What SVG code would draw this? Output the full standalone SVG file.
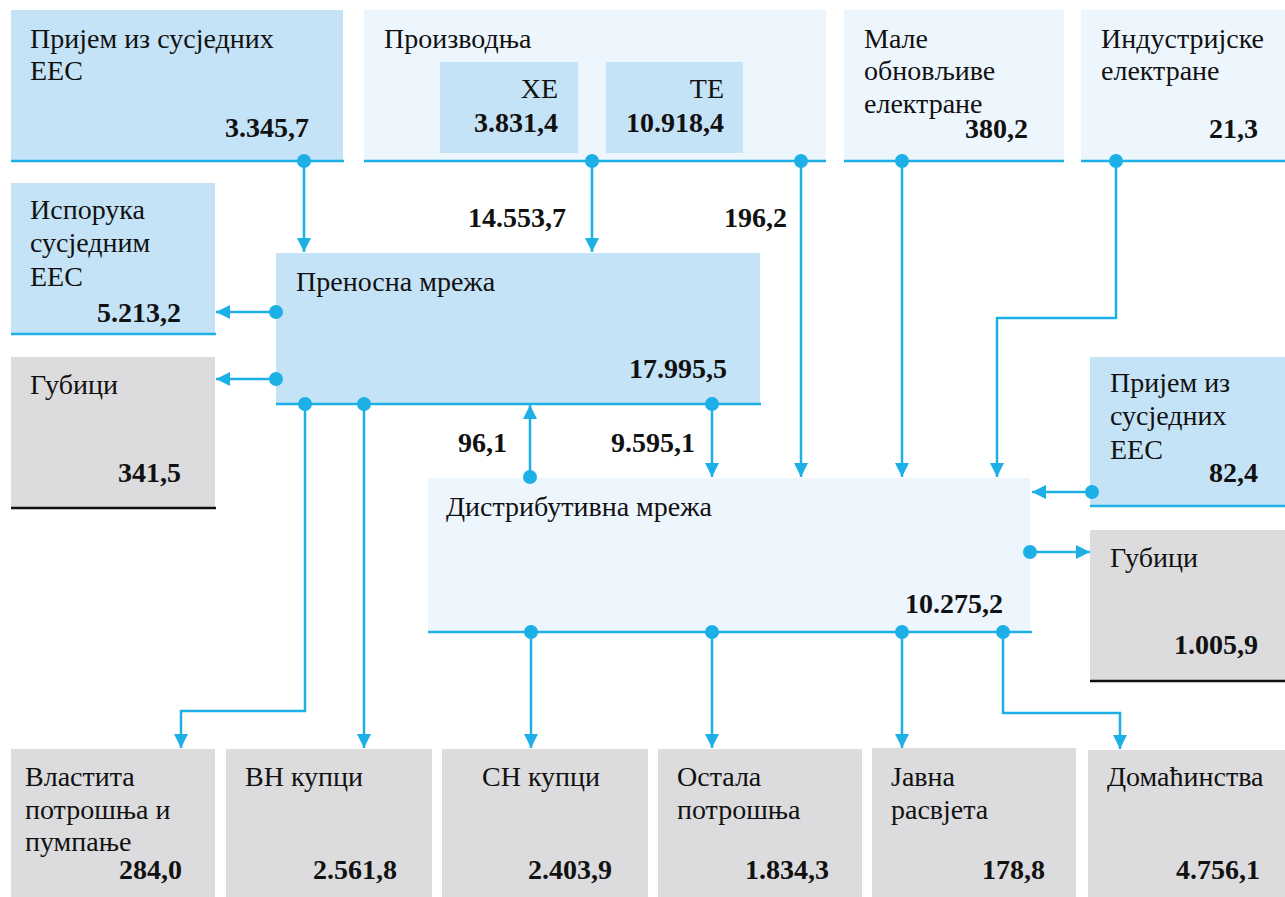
<svg xmlns="http://www.w3.org/2000/svg" width="1285" height="897" viewBox="0 0 1285 897">
<style>
.lb{fill:#C5E3F6}
.vl{fill:#EEF6FD}
.gr{fill:#DCDCDE}
.bl{stroke:#1DB0E7;stroke-width:2.5;fill:none}
.bk{stroke:#111;stroke-width:2.5;fill:none}
.t{font-family:'Liberation Serif','Times New Roman',Tinos,'Noto Serif','DejaVu Serif',FreeSerif,'Nimbus Roman','TeX Gyre Termes',serif;font-size:28px;fill:#111}
.n{font-family:'Liberation Serif','Times New Roman',Tinos,'Noto Serif','DejaVu Serif',FreeSerif,'Nimbus Roman','TeX Gyre Termes',serif;font-size:28px;font-weight:bold;fill:#111;text-anchor:end}
.c{stroke:#1DB0E7;stroke-width:2.5;fill:none;marker-end:url(#ah)}
.d{fill:#1DB0E7}
</style>
<defs>
<marker id="ah" markerUnits="userSpaceOnUse" markerWidth="16" markerHeight="16" refX="14" refY="7" orient="auto">
<path d="M0,0 L14,7 L0,14 z" fill="#1DB0E7"/>
</marker>
</defs>
<rect width="1285" height="897" fill="#fff"/>

<g id="prijem1">
<rect class="lb" x="11" y="10" width="332" height="150"/>
<line class="bl" x1="11" y1="161" x2="344" y2="161"/>
<text class="t" x="30" y="48">Пријем из сусједних</text>
<text class="t" x="30" y="80">ЕЕС</text>
<text class="n" x="309" y="137">3.345,7</text>
</g>

<g id="proizvodnja">
<rect class="vl" x="364" y="10" width="462" height="150"/>
<line class="bl" x1="364" y1="161" x2="826" y2="161"/>
<text class="t" x="384" y="48">Производња</text>
<g id="he">
<rect class="lb" x="440" y="62" width="138" height="91"/>
<text class="t" x="558" y="98" text-anchor="end">ХЕ</text>
<text class="n" x="558" y="132">3.831,4</text>
</g>
<g id="te">
<rect class="lb" x="606" y="62" width="137" height="91"/>
<text class="t" x="724" y="98" text-anchor="end">ТЕ</text>
<text class="n" x="724" y="132">10.918,4</text>
</g>
</g>

<g id="male">
<rect class="vl" x="844" y="10" width="220" height="150"/>
<line class="bl" x1="844" y1="161" x2="1064" y2="161"/>
<text class="t" x="864" y="48">Мале</text>
<text class="t" x="864" y="80">обновљиве</text>
<text class="t" x="864" y="113">електране</text>
<text class="n" x="1028" y="138">380,2</text>
</g>

<g id="industrijske">
<rect class="vl" x="1081" y="10" width="204" height="150"/>
<line class="bl" x1="1081" y1="161" x2="1285" y2="161"/>
<text class="t" x="1101" y="48">Индустријске</text>
<text class="t" x="1101" y="80">електране</text>
<text class="n" x="1258" y="138">21,3</text>
</g>

<g id="isporuka">
<rect class="lb" x="11" y="183" width="204" height="150"/>
<line class="bl" x1="11" y1="334" x2="216" y2="334"/>
<text class="t" x="30" y="219">Испорука</text>
<text class="t" x="30" y="252">сусједним</text>
<text class="t" x="30" y="286">ЕЕС</text>
<text class="n" x="181" y="322">5.213,2</text>
</g>

<g id="gubici1">
<rect class="gr" x="11" y="357" width="204" height="150"/>
<line class="bk" x1="11" y1="508" x2="216" y2="508"/>
<text class="t" x="30" y="394">Губици</text>
<text class="n" x="181" y="482">341,5</text>
</g>

<g id="prenosna">
<rect class="lb" x="276" y="253" width="484" height="150"/>
<line class="bl" x1="276" y1="404" x2="761" y2="404"/>
<text class="t" x="296" y="291">Преносна мрежа</text>
<text class="n" x="727" y="378">17.995,5</text>
</g>

<g id="distributivna">
<rect class="vl" x="428" y="478" width="602" height="153"/>
<line class="bl" x1="428" y1="632" x2="1032" y2="632"/>
<text class="t" x="446" y="516">Дистрибутивна мрежа</text>
<text class="n" x="1003" y="613">10.275,2</text>
</g>

<g id="prijem2">
<rect class="lb" x="1090" y="357" width="195" height="148"/>
<line class="bl" x1="1090" y1="506" x2="1285" y2="506"/>
<text class="t" x="1110" y="392">Пријем из</text>
<text class="t" x="1110" y="425">сусједних</text>
<text class="t" x="1110" y="459">ЕЕС</text>
<text class="n" x="1258" y="482">82,4</text>
</g>

<g id="gubici2">
<rect class="gr" x="1090" y="530" width="195" height="150"/>
<line class="bk" x1="1090" y1="681" x2="1285" y2="681"/>
<text class="t" x="1110" y="567">Губици</text>
<text class="n" x="1258" y="654">1.005,9</text>
</g>

<g id="vlastita">
<rect class="gr" x="11" y="749" width="204" height="148"/>
<text class="t" x="25" y="786">Властита</text>
<text class="t" x="25" y="819">потрошња и</text>
<text class="t" x="25" y="851">пумпање</text>
<text class="n" x="182" y="879">284,0</text>
</g>
<g id="vn">
<rect class="gr" x="226" y="749" width="206" height="148"/>
<text class="t" x="245" y="786">ВН купци</text>
<text class="n" x="397" y="879">2.561,8</text>
</g>
<g id="sn">
<rect class="gr" x="442" y="749" width="206" height="148"/>
<text class="t" x="482" y="786">СН купци</text>
<text class="n" x="612" y="879">2.403,9</text>
</g>
<g id="ostala">
<rect class="gr" x="658" y="749" width="204" height="148"/>
<text class="t" x="677" y="786">Остала</text>
<text class="t" x="677" y="819">потрошња</text>
<text class="n" x="829" y="879">1.834,3</text>
</g>
<g id="javna">
<rect class="gr" x="872" y="748" width="204" height="149"/>
<text class="t" x="891" y="786">Јавна</text>
<text class="t" x="891" y="819">расвјета</text>
<text class="n" x="1045" y="879">178,8</text>
</g>
<g id="domacinstva">
<rect class="gr" x="1088" y="750" width="197" height="147"/>
<text class="t" x="1107" y="786">Домаћинства</text>
<text class="n" x="1260" y="879">4.756,1</text>
</g>

<g id="connectors">
<path class="c" d="M304,161 V252"/>
<path class="c" d="M592,161 V252"/>
<path class="c" d="M801,161 V477"/>
<path class="c" d="M902,161 V477"/>
<path class="c" d="M1116,161 V318 H997 V477"/>
<path class="c" d="M276,312 H216"/>
<path class="c" d="M276,379 H216"/>
<path class="c" d="M530,477 V405"/>
<path class="c" d="M712,404 V477"/>
<path class="c" d="M1092,492 H1032"/>
<path class="c" d="M1030,552 H1090"/>
<path class="c" d="M305,404 V711 H181 V748"/>
<path class="c" d="M364,404 V748"/>
<path class="c" d="M531,632 V748"/>
<path class="c" d="M712,632 V748"/>
<path class="c" d="M902,632 V748"/>
<path class="c" d="M1003,632 V713 H1120 V749"/>
<g class="d">
<circle cx="304" cy="161" r="7"/>
<circle cx="592" cy="161" r="7"/>
<circle cx="801" cy="161" r="7"/>
<circle cx="902" cy="161" r="7"/>
<circle cx="1116" cy="161" r="7"/>
<circle cx="276" cy="312" r="7"/>
<circle cx="276" cy="379" r="7"/>
<circle cx="305" cy="404" r="7"/>
<circle cx="364" cy="404" r="7"/>
<circle cx="712" cy="404" r="7"/>
<circle cx="530" cy="477" r="7"/>
<circle cx="1092" cy="492" r="7"/>
<circle cx="1030" cy="552" r="7"/>
<circle cx="531" cy="632" r="7"/>
<circle cx="712" cy="632" r="7"/>
<circle cx="902" cy="632" r="7"/>
<circle cx="1003" cy="632" r="7"/>
</g>
<text class="n" x="566" y="227">14.553,7</text>
<text class="n" x="787" y="227">196,2</text>
<text class="n" x="507" y="452">96,1</text>
<text class="n" x="695" y="452">9.595,1</text>
</g>
</svg>
